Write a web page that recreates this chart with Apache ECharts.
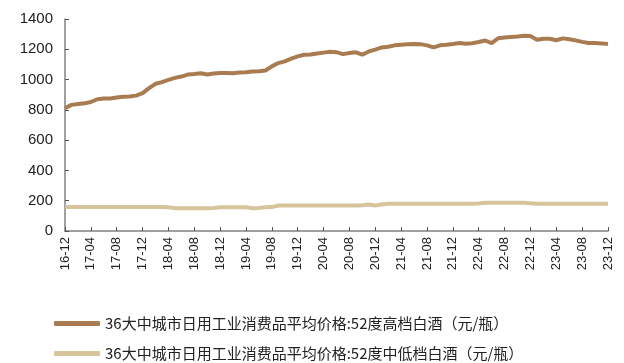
<!DOCTYPE html>
<html><head><meta charset="utf-8">
<script src="https://cdn.jsdelivr.net/npm/echarts@6/dist/echarts.min.js"></script>
<style>html,body{margin:0;padding:0;background:#fff}#c{width:624px;height:363px}</style>
</head><body><div id="c"></div>
<script>
const startYear = 2016, startMonth = 12, monthCount = 85;
const categories = [];
for (let i = 0; i < monthCount; i++) {
  const m = (startMonth - 1 + i) % 12 + 1;
  const y = startYear + Math.floor((startMonth - 1 + i) / 12);
  categories.push(String(y % 100) + '-' + String(m).padStart(2, '0'));
}
const highName = '36大中城市日用工业消费品平均价格:52度高档白酒（元/瓶）';
const lowName = '36大中城市日用工业消费品平均价格:52度中低档白酒（元/瓶）';
const highValues = [
  811, 833, 839, 843, 852, 870, 875, 875, 881, 886, 888, 894,
  910, 943, 972, 983, 998, 1011, 1020, 1033, 1037, 1042, 1033, 1040,
  1044, 1044, 1042, 1046, 1048, 1053, 1055, 1060, 1087, 1109, 1120, 1138,
  1153, 1164, 1165, 1172, 1178, 1183, 1181, 1168, 1175, 1180, 1164, 1186,
  1198, 1212, 1217, 1226, 1230, 1234, 1235, 1234, 1226, 1213, 1226, 1230,
  1235, 1241, 1236, 1240, 1248, 1258, 1241, 1273, 1278, 1281, 1284, 1289,
  1287, 1263, 1270, 1270, 1260, 1272, 1266, 1259, 1249, 1241, 1241, 1239,
  1235
];
const lowValues = [
  158, 158, 158, 158, 158, 158, 158, 158, 158, 158, 158, 158,
  158, 158, 158, 158, 157, 151, 150, 150, 150, 150, 150, 152,
  157, 157, 157, 157, 157, 150, 152, 157, 158, 168, 168, 168,
  168, 168, 168, 168, 168, 168, 168, 168, 168, 168, 170, 175,
  168, 175, 180, 180, 180, 180, 180, 180, 180, 180, 180, 180,
  180, 180, 180, 180, 181, 186, 186, 186, 186, 186, 186, 186,
  184, 180, 180, 180, 180, 180, 180, 180, 180, 180, 180, 180,
  180
];
const yTicks = [0, 200, 400, 600, 800, 1000, 1200, 1400];

const legendText = {fontFamily: '"Noto Sans CJK SC",sans-serif', fontSize: 15, color: '#222'};
const chart = echarts.init(document.getElementById('c'), null, {renderer: 'canvas'});
chart.setOption({
  animation: false,
  grid: {left: 65, right: 16, top: 19, bottom: 132, containLabel: false},
  legend: [
    {left: 49, top: 311, icon: 'roundRect', itemWidth: 46, itemHeight: 5, itemGap: 0,
      textStyle: legendText, data: [highName]},
    {left: 49, top: 341, icon: 'roundRect', itemWidth: 46, itemHeight: 5, itemGap: 0,
      textStyle: legendText, data: [lowName]}
  ],
  xAxis: {
    type: 'category', data: categories, boundaryGap: false,
    axisLine: {lineStyle: {color: '#808080', width: 1.5}},
    axisTick: {inside: true, length: 4, interval: 3, lineStyle: {color: '#555'}},
    axisLabel: {interval: 3, rotate: 90, fontFamily: '"Liberation Sans",sans-serif', fontSize: 13, color: '#222', margin: 6}
  },
  yAxis: {
    type: 'value', min: 0, max: 1400, interval: 200,
    axisLine: {show: true, lineStyle: {color: '#808080', width: 1.5}},
    axisTick: {show: true, inside: true, length: 4, lineStyle: {color: '#555'}},
    splitLine: {show: false},
    axisLabel: {fontFamily: '"Liberation Sans",sans-serif', fontSize: 15, color: '#222', margin: 12,
      formatter: v => yTicks.includes(v) ? String(v) : ''}
  },
  series: [
    {name: highName, type: 'line', data: highValues, showSymbol: false, smooth: false,
      lineStyle: {color: '#a87c50', width: 4}, itemStyle: {color: '#a87c50'}},
    {name: lowName, type: 'line', data: lowValues, showSymbol: false, smooth: false,
      lineStyle: {color: '#d8c49a', width: 4}, itemStyle: {color: '#d8c49a'}}
  ]
});
</script></body></html>
